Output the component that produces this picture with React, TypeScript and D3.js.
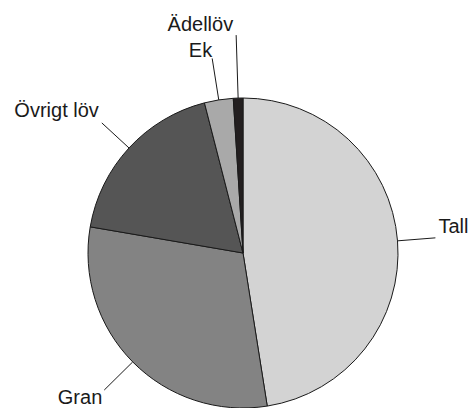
import * as d3 from "d3";

const categories = ["Tall", "Gran", "Övrigt löv", "Ek", "Ädellöv"];
const shares = [47.5, 30.2, 18.3, 3.0, 1.0];
const colors = ["#d3d3d3", "#838383", "#555555", "#a9a9a9", "#231f20"];

// leader line length and label offset from the line end, per slice
const leaderLength = [38, 40, 37, 42, 63];
const labelOffset: [number, number, "start" | "end"][] = [
  [3, -5, "start"],
  [-2, 14, "end"],
  [-3, -6, "end"],
  [0, -1, "end"],
  [-3, -4, "end"],
];

const width = 471;
const height = 408;
const cx = 243;
const cy = 253;
const radius = 155;

export default function App() {
  const pie = d3
    .pie<number>()
    .sort(null)
    .value((d) => d);
  const arcs = pie(shares);
  const arc = d3.arc<d3.PieArcDatum<number>>().innerRadius(0).outerRadius(radius);

  return (
    <svg
      width={width}
      height={height}
      style={{ position: "absolute", left: 0, top: 0, background: "#fff" }}
      fontFamily="'Liberation Sans', Arial, sans-serif"
      fontSize={20}
    >
      <g transform={`translate(${cx},${cy})`}>
        {arcs.map((a, i) => (
          <path
            key={i}
            d={arc(a) || ""}
            fill={colors[i]}
            stroke="#1a1a1a"
            strokeWidth={1}
          />
        ))}
        {arcs.map((a, i) => {
          const mid = (a.startAngle + a.endAngle) / 2;
          const sx = Math.sin(mid);
          const sy = -Math.cos(mid);
          const x0 = radius * sx;
          const y0 = radius * sy;
          const x1 = (radius + leaderLength[i]) * sx;
          const y1 = (radius + leaderLength[i]) * sy;
          const [dx, dy, anchor] = labelOffset[i];
          return (
            <g key={i}>
              <line x1={x0} y1={y0} x2={x1} y2={y1} stroke="#1a1a1a" strokeWidth={1} />
              <text x={x1 + dx} y={y1 + dy} textAnchor={anchor} fill="#1a1a1a">
                {categories[i]}
              </text>
            </g>
          );
        })}
      </g>
    </svg>
  );
}
